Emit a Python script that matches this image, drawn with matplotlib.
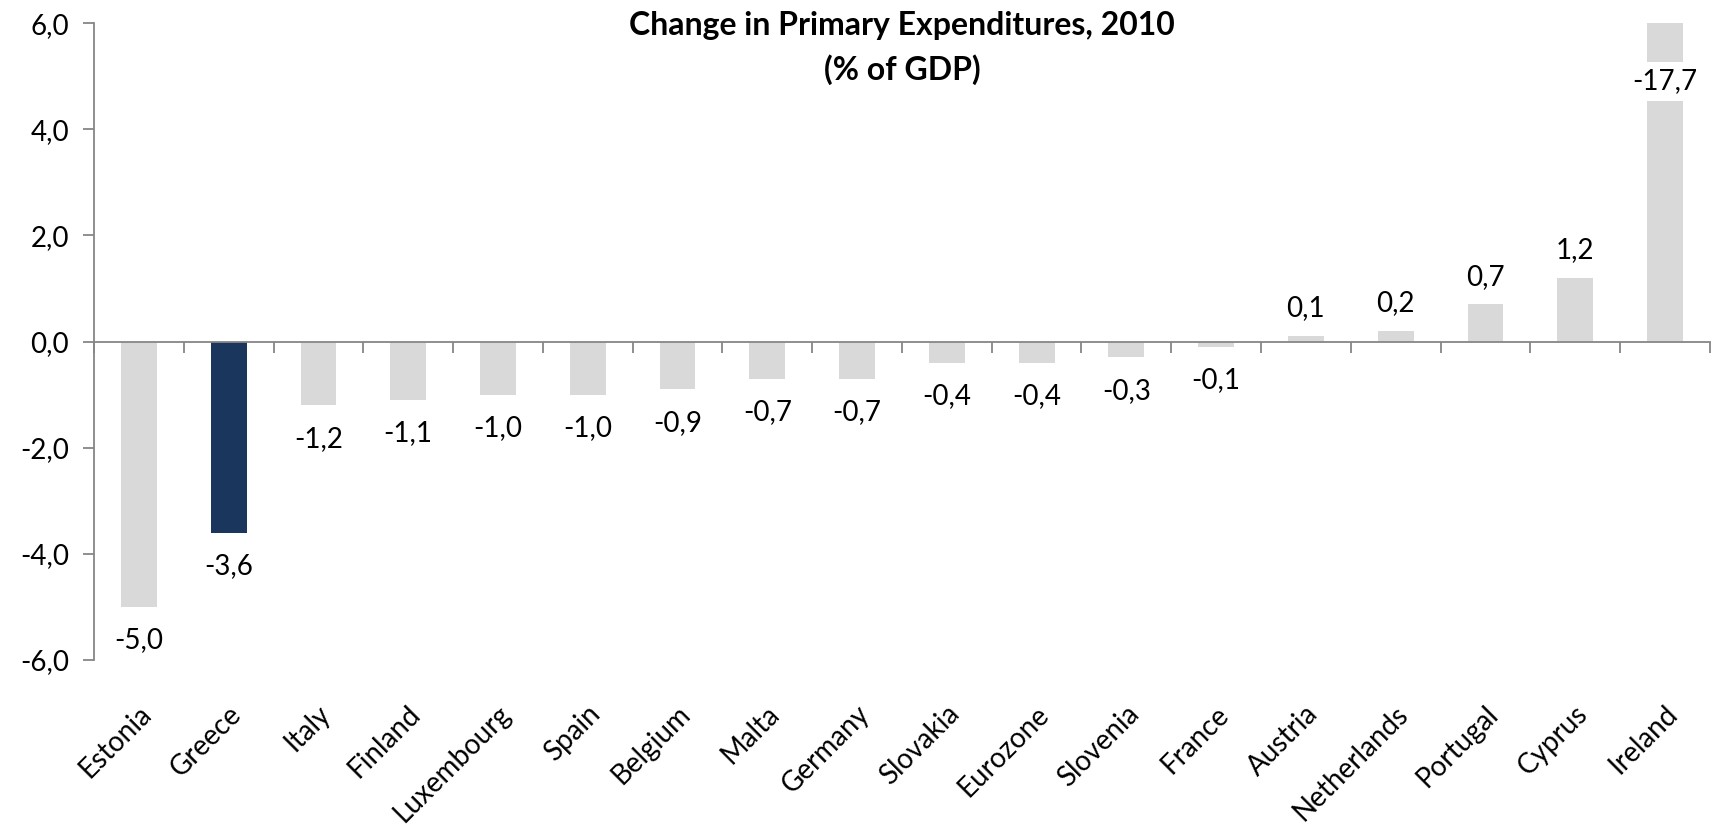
import matplotlib
matplotlib.use("Agg")
import matplotlib.pyplot as plt
import numpy as np

plt.rcParams['font.family'] = ['Lato', 'DejaVu Sans']

countries = ['Estonia', 'Greece', 'Italy', 'Finland', 'Luxembourg', 'Spain',
             'Belgium', 'Malta', 'Germany', 'Slovakia', 'Eurozone', 'Slovenia',
             'France', 'Austria', 'Netherlands', 'Portugal', 'Cyprus', 'Ireland']
change = [-5.0, -3.6, -1.2, -1.1, -1.0, -1.0, -0.9, -0.7, -0.7, -0.4, -0.4,
          -0.3, -0.1, 0.1, 0.2, 0.7, 1.2, 17.7]
highlight = 'Greece'
y_ticks = [-6, -4, -2, 0, 2, 4, 6]

grey = '#D9D9D9'
navy = '#1B365D'
axis_grey = '#868686'
fs = 20


def fmt(v):
    return ('%.1f' % v).replace('.', ',')


fig = plt.figure(figsize=(17.19, 8.25), dpi=100)
ax = fig.add_axes([0.0547, 0.2, 0.94, 0.772])

x = np.arange(len(countries))
colors = [navy if c == highlight else grey for c in countries]
bars = ax.bar(x, change, width=0.4, color=colors, zorder=2)

ax.set_xlim(-0.5, len(countries) - 0.5)
ax.set_ylim(-6, 6)
ax.set_yticks(y_ticks)
ax.set_yticklabels([fmt(t) for t in y_ticks], fontsize=fs)

# x axis sits on zero, ticks mark the category boundaries
ax.spines['bottom'].set_position(('data', 0))
ax.set_xticks(np.arange(-0.5, len(countries) + 0.5, 1.0))
ax.set_xticklabels([])
for s in ['top', 'right']:
    ax.spines[s].set_visible(False)
for s in ['left', 'bottom']:
    ax.spines[s].set_color(axis_grey)
    ax.spines[s].set_linewidth(1.3)
ax.tick_params(axis='both', direction='out', length=8, width=1.3, color=axis_grey)
ax.tick_params(axis='y', pad=10)

# category names below the plot area
for i, name in enumerate(countries):
    ax.annotate(name, xy=(i, 0), xycoords=('data', 'axes fraction'),
                xytext=(6, -36), textcoords='offset points',
                rotation=45, rotation_mode='anchor', ha='right', va='center',
                fontsize=fs)

# value labels
for i, v in enumerate(change):
    if v > 6:
        # bar runs off the top: label sits on the bar inside a white box
        ax.text(i, 4.9, '-' + fmt(v), ha='center', va='center', fontsize=fs,
                zorder=3, bbox=dict(facecolor='white', edgecolor='none', pad=5))
        continue
    off = 20 if v >= 0 else -24
    ax.annotate(fmt(v), xy=(i, v), xytext=(0, off), textcoords='offset points',
                ha='center', va='center', fontsize=fs)

title_x = 0.0547 + 0.94 / 2
fig.text(title_x, 1 - 26 / 825, 'Change in Primary Expenditures, 2010',
         ha='center', va='center', fontsize=23, fontweight='bold')
fig.text(title_x, 1 - 70 / 825, '(% of GDP)',
         ha='center', va='center', fontsize=23, fontweight='bold')

fig.savefig('out.png', dpi=100)
